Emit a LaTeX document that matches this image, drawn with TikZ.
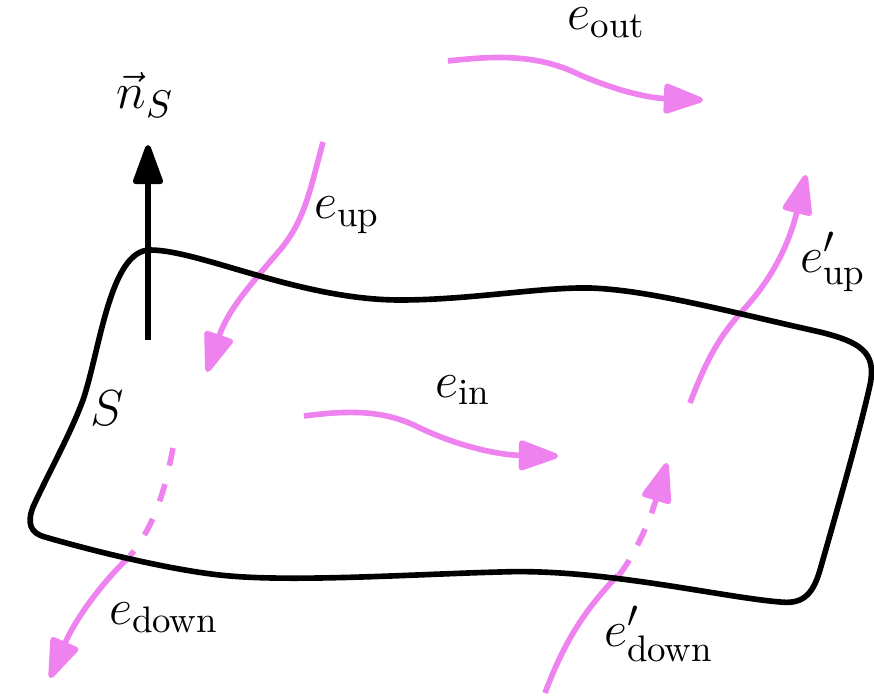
\documentclass[tikz,border=0pt]{standalone}
\usepackage{amsmath}
\usetikzlibrary{arrows.meta, positioning}
\definecolor{fluxpink}{RGB}{238,130,238}
\tikzset{
  flux/.style={line width=1.6pt, fluxpink},
  fluxtip/.style={-{Triangle[length=4.5mm, width=3.1mm, round]}, flux},
  lbl/.style={font=\fontsize{15}{18}\selectfont, inner sep=0pt}
}
\begin{document}
\begin{tikzpicture}[scale=1.0]
  \useasboundingbox (0,0) rectangle (8.74,6.95);
  % strømme
  \draw[fluxtip] (4.48,6.34) .. controls (5.00,6.40) and (5.40,6.40) .. (5.80,6.20) .. controls (6.20,6.03) and (6.50,5.97) .. (7.03,5.95);
  \draw[fluxtip] (3.04,2.79) .. controls (3.50,2.85) and (3.85,2.85) .. (4.20,2.67) .. controls (4.60,2.48) and (5.00,2.40) .. (5.58,2.39);
  \draw[fluxtip] (3.23,5.53) .. controls (3.10,5.05) and (3.05,4.75) .. (2.80,4.45) .. controls (2.50,4.10) and (2.28,3.85) .. (2.07,3.23);
  \draw[fluxtip] (6.90,2.92) .. controls (7.10,3.45) and (7.25,3.65) .. (7.45,3.87) .. controls (7.75,4.20) and (7.90,4.55) .. (8.06,5.20);
  % nedadgående, stiplet under fladen
  \draw[flux, dash pattern=on 1.8mm off 1.9mm] (1.73,2.47) .. controls (1.65,2.05) and (1.55,1.70) .. (1.30,1.39);
  \draw[fluxtip] (1.28,1.37) .. controls (1.00,1.10) and (0.75,0.75) .. (0.50,0.17);
  \draw[flux] (5.45,0.02) .. controls (5.65,0.55) and (5.85,0.85) .. (6.18,1.20);
  \draw[fluxtip, dash pattern=on 1.8mm off 1.7mm] (6.19,1.20) .. controls (6.35,1.40) and (6.50,1.75) .. (6.67,2.32);
  % fladen
  \draw[black, line width=1.6pt] (1.50,4.45) .. controls (2.00,4.45) and (3.00,3.95) .. (4.00,3.95)
    .. controls (4.70,3.95) and (5.40,4.08) .. (5.90,4.07)
    .. controls (6.50,4.05) and (7.30,3.83) .. (8.20,3.63)
    .. controls (8.60,3.53) and (8.77,3.43) .. (8.70,3.10)
    .. controls (8.60,2.65) and (8.40,1.95) .. (8.20,1.25)
    .. controls (8.12,0.97) and (8.00,0.91) .. (7.80,0.93)
    .. controls (7.20,0.98) and (6.00,1.27) .. (5.00,1.23)
    .. controls (4.20,1.21) and (3.00,1.13) .. (2.30,1.19)
    .. controls (1.80,1.23) and (1.00,1.42) .. (0.45,1.58)
    .. controls (0.30,1.62) and (0.27,1.72) .. (0.33,1.88)
    .. controls (0.50,2.25) and (0.70,2.60) .. (0.83,2.95)
    .. controls (1.00,3.45) and (1.10,4.45) .. (1.50,4.45) -- cycle;
  % normalvektor
  \draw[-{Triangle[length=4.5mm, width=3.1mm, round]}, line width=1.6pt] (1.48,3.55) -- (1.48,5.50);
  % navne
  \node[lbl] (nS) at (1.45,6.00) {$\vec{n}_S$};
  \node[lbl] (S) at (1.07,2.87) {$S$};
  \node[lbl] (eout) at (6.07,6.72) {$e_{\text{out}}$};
  \node[lbl] (ein) at (4.63,3.05) {$e_{\text{in}}$};
  \node[lbl] (eup) at (3.47,4.80) {$e_{\text{up}}$};
  \node[lbl] (eupp) at (8.33,4.33) {$e'_{\text{up}}$};
  \node[lbl] (edown) at (1.64,0.77) {$e_{\text{down}}$};
  \node[lbl] (edownp) at (6.59,0.61) {$e'_{\text{down}}$};
\end{tikzpicture}
\end{document}
